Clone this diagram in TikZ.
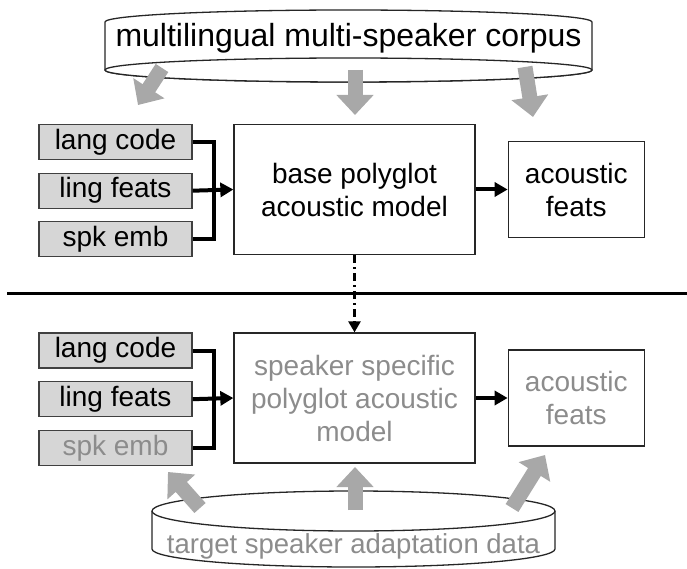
\documentclass[tikz,border=0pt]{standalone}
\usepackage{fontspec}
\setmainfont{Liberation Sans}
\usetikzlibrary{positioning, arrows.meta, calc}
\definecolor{Boxgray}{RGB}{214,214,214}
\definecolor{Txtgray}{RGB}{140,140,140}
\definecolor{Arrgray}{RGB}{168,168,168}

\begin{document}
\begin{tikzpicture}[
  x=1pt, y=1pt,
  font=\fontsize{28}{33}\selectfont,
  inp/.style={draw=black!75, fill=Boxgray, minimum width=153pt,
              minimum height=35pt, inner sep=0pt, line width=1.2pt},
  model/.style={draw=black!85, minimum width=241pt, minimum height=130pt,
                align=center, inner sep=0pt, line width=1.3pt},
  feats/.style={draw=black!85, minimum width=136pt, minimum height=96pt,
                align=center, inner sep=0pt, line width=1.3pt},
  bus/.style={line width=4pt},
  arr/.style={-{Triangle[length=13pt, width=14pt]}, line width=4pt},
  fat/.style={-{Triangle[length=20pt, width=36pt]}, line width=15pt, draw=Arrgray},
  cyl/.style={draw=black!85, fill=white, line width=1.3pt},
  dasharr/.style={-{Triangle[length=11pt, width=12pt]}, line width=2.5pt,
                  dash pattern=on 8pt off 4pt on 2pt off 4pt}
]
\useasboundingbox (0,0) rectangle (687,568);

%% ——— Corpus (top cylinder) ———
\draw[cyl] (105,546) arc[start angle=180, end angle=0, x radius=243.5, y radius=12]
  -- (592,498) arc[start angle=0, end angle=-180, x radius=243.5, y radius=12] -- cycle;
\draw[cyl] (348.5,498) ellipse [x radius=243.5, y radius=12];
\node[font=\fontsize{32}{38}\selectfont] (corpus) at (348.5,529.5)
  {multilingual multi-speaker corpus};

%% ——— Fila 1: base model ———
\node[inp] (lang1) at (115.5,426) {lang code};
\node[inp, below=12.5pt of lang1] (ling1) {ling feats};
\node[inp, below=12.5pt of ling1] (spk1) {spk emb};
\node[model] (main1) at (354.5,378.5) {base polyglot\\acoustic model};
\node[feats, right=32pt of main1] (feats1) {acoustic\\feats};

\draw[bus] (lang1.east) -- ++(21,0) |- (spk1.east);
\draw[arr] (ling1.east) -- (main1.west);
\draw[arr] (main1.east) -- (feats1.west);

%% corpus -> row 1
\coordinate (t1) at (162,500);  \coordinate (h1) at (138,463);
\coordinate (t2) at (355,498);  \coordinate (h2) at (355,453);
\coordinate (t3) at (525,501);  \coordinate (h3) at (533,451);
\draw[fat] (t1) -- (h1);
\draw[fat] (t2) -- (h2);
\draw[fat] (t3) -- (h3);

%% ——— Separador ———
\coordinate (sepL) at (7,274);
\coordinate (sepR) at (687,274);
\draw[line width=3pt] (sepL) -- (sepR);

%% ——— Fila 2: adapted model ———
\node[inp] (lang2) at (115.5,217.5) {lang code};
\node[inp, below=12.5pt of lang2] (ling2) {ling feats};
\node[inp, below=12.5pt of ling2, text=Txtgray] (spk2) {spk emb};
\node[model, text=Txtgray] (main2) at (354.5,170)
  {speaker specific\\polyglot acoustic\\model};
\node[feats, right=32pt of main2, text=Txtgray] (feats2) {acoustic\\feats};

\draw[bus] (lang2.east) -- ++(21,0) |- (spk2.east);
\draw[arr] (ling2.east) -- (main2.west);
\draw[arr] (main2.east) -- (feats2.west);

\draw[dasharr] (main1.south) -- (main2.north);

%% ——— Adaptation data (bottom cylinder) ———
\draw[cyl] (152,57) -- (152,19) arc[start angle=180, end angle=360, x radius=201.5, y radius=18]
  -- (555,57);
\draw[cyl] (353.5,57) ellipse [x radius=201.5, y radius=20];
\node[font=\fontsize{27.5}{33}\selectfont, text=Txtgray] (adapt) at (353.5,22)
  {target speaker adaptation data};

%% data -> row 2
\coordinate (b1) at (200,60);  \coordinate (g1) at (168,96);
\coordinate (b2) at (355,58);  \coordinate (g2) at (355,101);
\coordinate (b3) at (512,60);  \coordinate (g3) at (545,113);
\draw[fat] (b1) -- (g1);
\draw[fat] (b2) -- (g2);
\draw[fat] (b3) -- (g3);

\end{tikzpicture}
\end{document}
